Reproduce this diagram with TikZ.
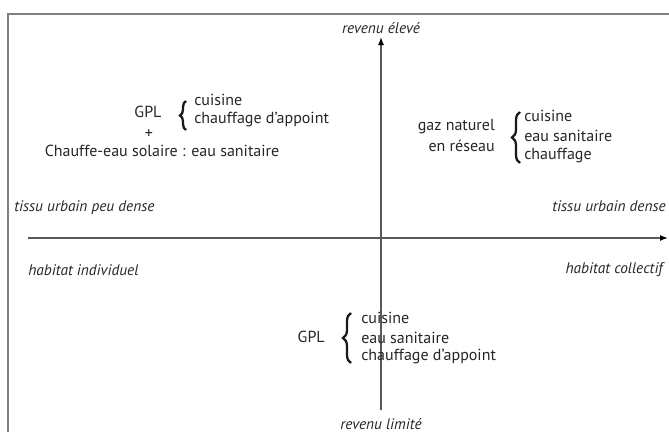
\documentclass[tikz,border=0pt]{standalone}
\usepackage{fontspec}
\setmainfont{PT Sans}
\usetikzlibrary{arrows.meta,decorations.pathreplacing}

\tikzset{
  lbl/.style={inner sep=0.75pt, text=black!85, font=\fontsize{12}{14}\selectfont},
  axlbl/.style={lbl, font=\fontsize{11.5}{13}\selectfont\itshape},
  axe/.style={draw=black!65, line width=1.1pt, -{Latex[length=6pt,width=4.5pt,color=black]}},
  accol/.style={decorate, decoration={brace, amplitude=#1}, line width=1.7pt, black!90},
  accol/.default=6pt
}

\begin{document}
\begin{tikzpicture}[x=0.75pt,y=0.75pt,yscale=-1,xscale=1]
\useasboundingbox (0,0) rectangle (669,432);
\clip (0,0) rectangle (669,432);

%Shape: Frame
\draw [draw=black!50, line width=1.2pt] (8,14) rectangle (690,450);

%Axes
\coordinate (xg) at (28,238);
\coordinate (xd) at (668,238);
\coordinate (yb) at (381,410);
\coordinate (yh) at (381,37);
\draw [axe] (xg) -- (xd);
\draw [axe] (yb) -- (yh);

% Text Node
\node (revh) [axlbl, anchor=center] at (381,28) {revenu élevé};
% Text Node
\node (revb) [axlbl, anchor=center] at (381,424) {revenu limité};
% Text Node
\node (tpd) [axlbl, anchor=west] at (13,208) {tissu urbain peu dense};
% Text Node
\node (td) [axlbl, anchor=east] at (667,206) {tissu urbain dense};
% Text Node
\node (hind) [axlbl, anchor=west] at (27,270) {habitat individuel};
% Text Node
\node (hcol) [axlbl, anchor=east] at (664,270) {habitat collectif};

% GPL + solaire
\node (gplA) [lbl, anchor=center] at (148,112) {GPL};
\node (cuisA) [lbl, anchor=west] at (193,100) {cuisine};
\node (chaufA) [lbl, anchor=west] at (193,120) {chauffage d'appoint};
\node (plus) [lbl, anchor=center] at (149,134) {+};
\node (solaire) [lbl, anchor=center] at (162,151) {Chauffe-eau solaire : eau sanitaire};
\coordinate (accAb) at (186,130);
\coordinate (accAh) at (186,101);
\draw [accol=4.5pt] (accAb) -- (accAh);

% gaz naturel
\node (gaz) [lbl, anchor=east] at (496,127) {gaz naturel};
\node (reseau) [lbl, anchor=east] at (496,146) {en réseau};
\node (cuisB) [lbl, anchor=west] at (523,116) {cuisine};
\node (eauB) [lbl, anchor=west] at (523,136) {eau sanitaire};
\node (chaufB) [lbl, anchor=west] at (523,156) {chauffage};
\coordinate (accBb) at (520,163);
\coordinate (accBh) at (520,112);
\draw [accol] (accBb) -- (accBh);

% GPL bas
\node (gplC) [lbl, anchor=east] at (326,337) {GPL};
\node (cuisC) [lbl, anchor=west] at (360,318) {cuisine};
\node (eauC) [lbl, anchor=west] at (360,338) {eau sanitaire};
\node (chaufC) [lbl, anchor=west] at (360,357) {chauffage d'appoint};
\coordinate (accCb) at (351,363);
\coordinate (accCh) at (351,313);
\draw [accol] (accCb) -- (accCh);

\end{tikzpicture}
\end{document}
